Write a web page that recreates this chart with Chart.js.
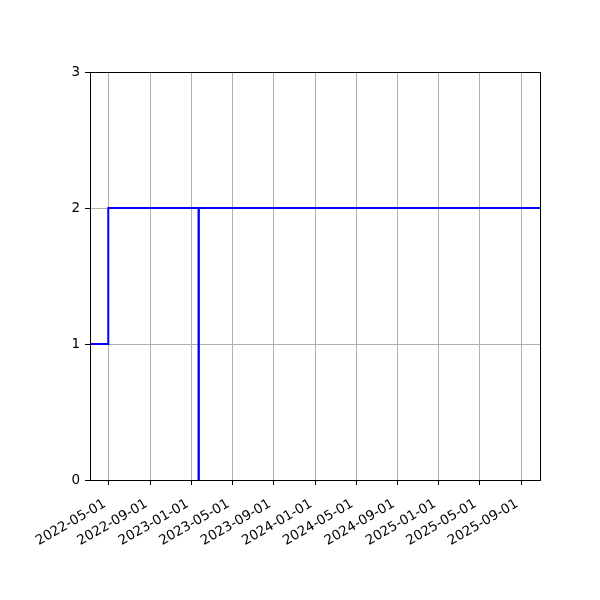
<!DOCTYPE html>
<html>
<head>
<meta charset="utf-8">
<script src="https://cdn.jsdelivr.net/npm/chart.js@4"></script>
<style>
  body { margin: 0; background: #fff; }
  #wrap { width: 600px; height: 600px; }
</style>
</head>
<body>
<div id="wrap"><canvas id="myChart"></canvas></div>
<script>
// data
var dates = ['2022-03-06', '2022-04-29', '2023-01-21', '2023-01-22', '2025-10-27'];
var values = [1, 2, 0, 2, 2];
var xTickDates = ['2022-05-01', '2022-09-01', '2023-01-01', '2023-05-01', '2023-09-01',
    '2024-01-01', '2024-05-01', '2024-09-01', '2025-01-01', '2025-05-01', '2025-09-01'];
var yTicks = [0, 1, 2, 3];

function toMs(s) {
    var p = s.split('-');
    return Date.UTC(+p[0], +p[1] - 1, +p[2]);
}
function fmt(ms) {
    var d = new Date(ms);
    var m = d.getUTCMonth() + 1, day = d.getUTCDate();
    return d.getUTCFullYear() + '-' + (m < 10 ? '0' : '') + m + '-' + (day < 10 ? '0' : '') + day;
}

var points = dates.map(function (d, i) { return { x: toMs(d), y: values[i] }; });

// matplotlib-like box around the plot
var boxPlugin = {
    id: 'box',
    afterDraw: function (chart) {
        var a = chart.chartArea, c = chart.ctx;
        c.save();
        c.strokeStyle = '#000';
        c.lineWidth = 1;
        c.strokeRect(Math.round(a.left) + 0.5, Math.round(a.top) + 0.5,
            Math.round(a.right - a.left), Math.round(a.bottom - a.top));
        c.restore();
    }
};

var ctx = document.getElementById('myChart').getContext('2d');
var myChart = new Chart(ctx, {
    type: 'line',
    data: {
        datasets: [{
            data: points,
            borderColor: '#0000ff',
            borderWidth: 2,
            pointRadius: 0,
            stepped: true,
            fill: false
        }]
    },
    options: {
        responsive: true,
        maintainAspectRatio: false,
        animation: false,
        layout: { padding: { top: 72, right: 60, left: 0, bottom: 0 } },
        plugins: { legend: { display: false }, tooltip: { enabled: false } },
        scales: {
            x: {
                type: 'linear',
                min: toMs(dates[0]),
                max: toMs(dates[dates.length - 1]),
                afterBuildTicks: function (scale) {
                    scale.ticks = xTickDates.map(function (d) { return { value: toMs(d) }; });
                },
                afterFit: function (scale) { scale.height = 120; },
                ticks: {
                    autoSkip: false,
                    minRotation: 30,
                    maxRotation: 30,
                    padding: 11,
                    labelOffset: -4,
                    color: '#000',
                    font: { family: 'DejaVu Sans', size: 13.5 },
                    callback: function (v) { return fmt(v); }
                },
                grid: { color: '#b0b0b0', lineWidth: 1, tickColor: '#000', tickLength: 5 },
                border: { color: '#000', width: 1 }
            },
            y: {
                min: 0,
                max: 3,
                afterBuildTicks: function (scale) {
                    scale.ticks = yTicks.map(function (v) { return { value: v }; });
                },
                afterFit: function (scale) { scale.width = 90; },
                ticks: {
                    padding: 5,
                    color: '#000',
                    font: { family: 'DejaVu Sans', size: 13.5 },
                    callback: function (v) { return String(v); }
                },
                grid: { color: '#b0b0b0', lineWidth: 1, tickColor: '#000', tickLength: 5 },
                border: { color: '#000', width: 1 }
            }
        }
    },
    plugins: [boxPlugin]
});
</script>
</body>
</html>
